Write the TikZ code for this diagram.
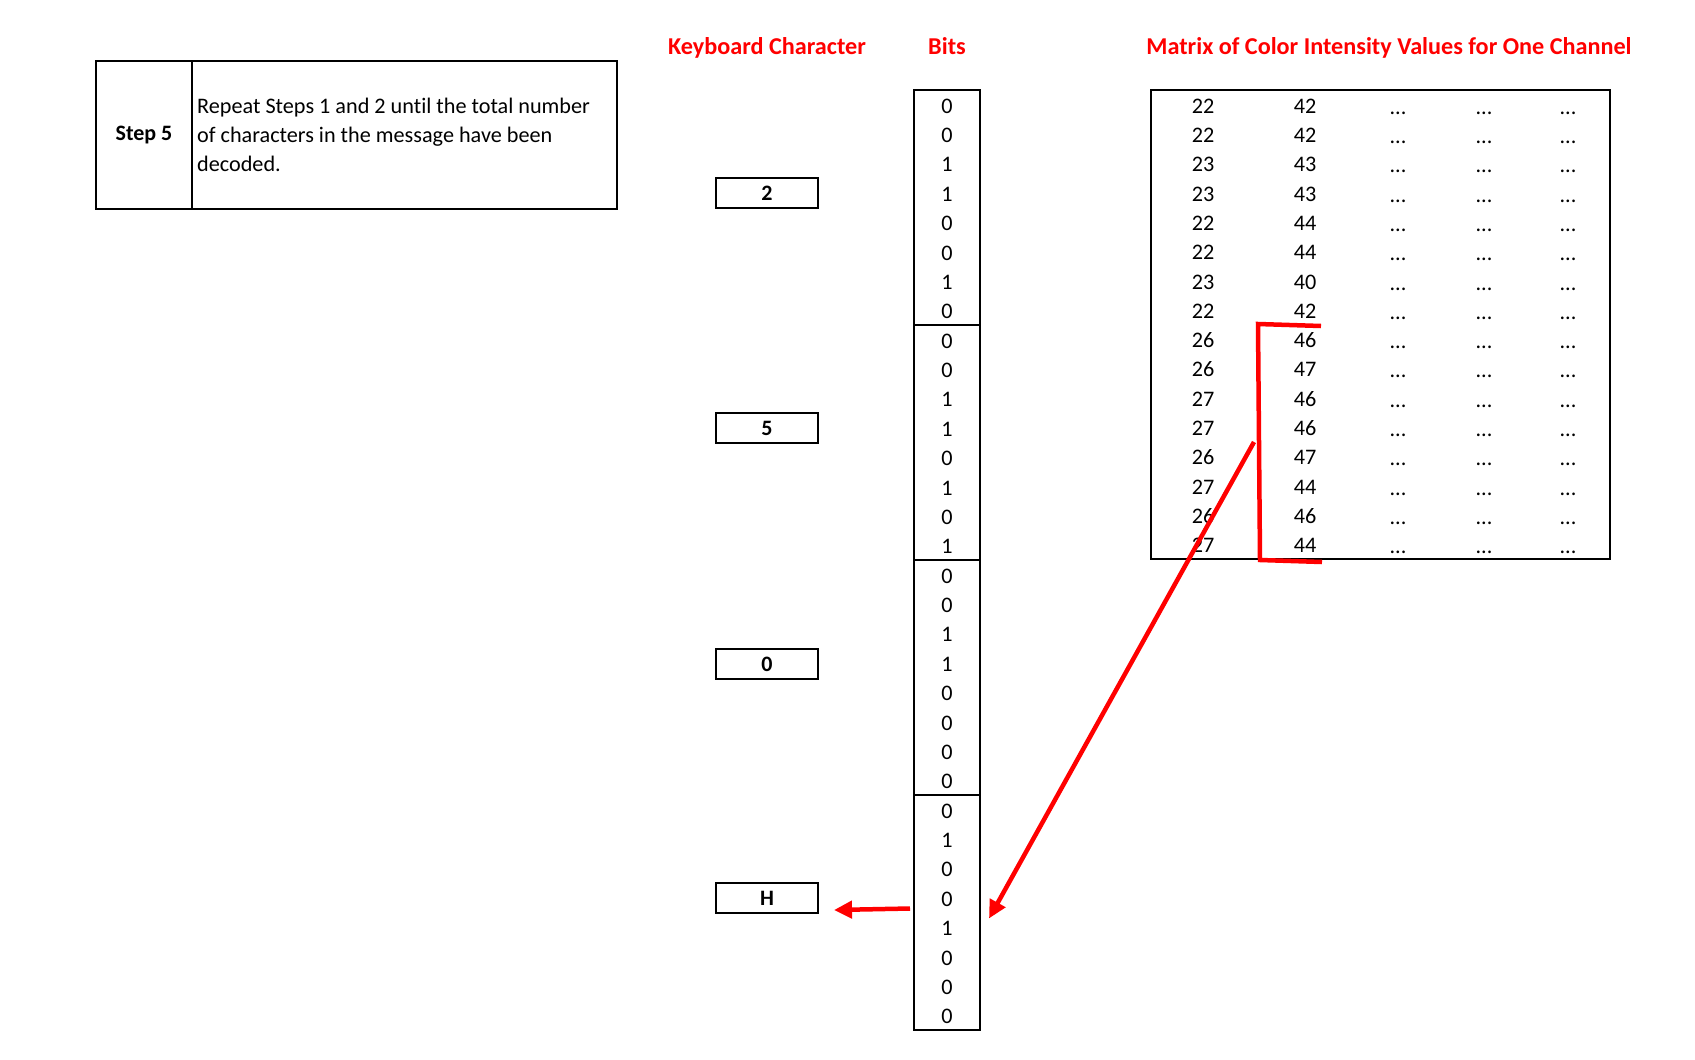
\documentclass[tikz,border=0pt]{standalone}
\usepackage{fontspec}
\setmainfont{Carlito}[Ligatures=NoCommon]
\usetikzlibrary{arrows.meta,calc}
\definecolor{xred}{RGB}{255,0,0}
\begin{document}
\begin{tikzpicture}[x=1pt,y=-1pt,
  font=\fontsize{22.2}{29}\selectfont,
  hdr/.style={text=xred, font=\fontsize{24.2}{28}\selectfont\bfseries, anchor=base, inner sep=0},
  cell/.style={anchor=base, inner sep=0},
  kbox/.style={draw, line width=2pt, minimum width=102pt, minimum height=30pt, inner sep=0, font=\fontsize{22}{26}\selectfont\bfseries},
  grp/.style={draw, line width=2pt, minimum width=66pt, minimum height=235pt, inner sep=0},
  stepcell/.style={draw, line width=1.3pt, minimum height=148pt, inner sep=0},
  redarr/.style={draw=xred, line width=4.5pt, -{Triangle[length=18pt,width=17pt]}}]
\useasboundingbox[fill=white] (0,0) rectangle (1695,1060);

% Step box
\node[stepcell, minimum width=96pt, font=\fontsize{22}{26}\selectfont\bfseries] (stepl) at (144,135) {Step 5};
\node[stepcell, minimum width=425pt] (stepr) at (404.5,135) {};
\node[anchor=west, align=left, inner sep=0] (steptext) at (197,135)
  {Repeat Steps 1 and 2 until the total number\\of characters in the message have been\\decoded.};

% Headers
\node[hdr] (hkey) at (767,54) {Keyboard Character};
\node[hdr] (hbits) at (947,54) {Bits};
\node[hdr] (hmat) at (1389,54) {Matrix of Color Intensity Values for One Channel};

% Keyboard characters
\node[kbox] (k2) at (767,193) {2};
\node[kbox] (k5) at (767,428) {5};
\node[kbox] (k0) at (767,664) {0};
\node[kbox] (kH) at (767,898) {H};

% Bits groups
\node[grp] (g1) at (947,207.5) {};
\node[grp] (g2) at (947,442.5) {};
\node[grp] (g3) at (947,677.5) {};
\node[grp] (g4) at (947,912.5) {};
\foreach \v [count=\i] in {0,0,1,1,0,0,1,0, 0,0,1,1,0,1,0,1, 0,0,1,1,0,0,0,0, 0,1,0,0,1,0,0,0}
  \node[cell] (bit\i) at (947,{90+29.375*(\i-0.5)+8.5}) {\v};

% Matrix
\node[draw, line width=2pt, minimum width=459pt, minimum height=469pt, inner sep=0] (mat) at (1380.5,324.5) {};
\foreach \a/\b [count=\i] in {22/42,22/42,23/43,23/43,22/44,22/44,23/40,22/42,26/46,26/47,27/46,27/46,26/47,27/44,26/46,27/44} {
  \node[cell] (ma\i) at (1203,{90+29.31*(\i-0.5)+8.5}) {\a};
  \node[cell] (mb\i) at (1305,{90+29.31*(\i-0.5)+8.5}) {\b};
  \node[cell] (mc\i) at (1398,{90+29.31*(\i-0.5)+9.5}) {...};
  \node[cell] (md\i) at (1484,{90+29.31*(\i-0.5)+9.5}) {...};
  \node[cell] (me\i) at (1568,{90+29.31*(\i-0.5)+9.5}) {...};
}

% Red bracket
\draw[xred, line width=4.5pt] (1321,326) -- (1258,324) -- (1260,560) -- (1322,562);
\coordinate (brk) at (1254,442);

% Arrows
\draw[redarr] ($(g4.west)+(-3,-4)$) -- ($(kH.east)+(15,12)$);
\draw[redarr] (brk) -- ($(g4.east)+(8,6)$);
\end{tikzpicture}
\end{document}
